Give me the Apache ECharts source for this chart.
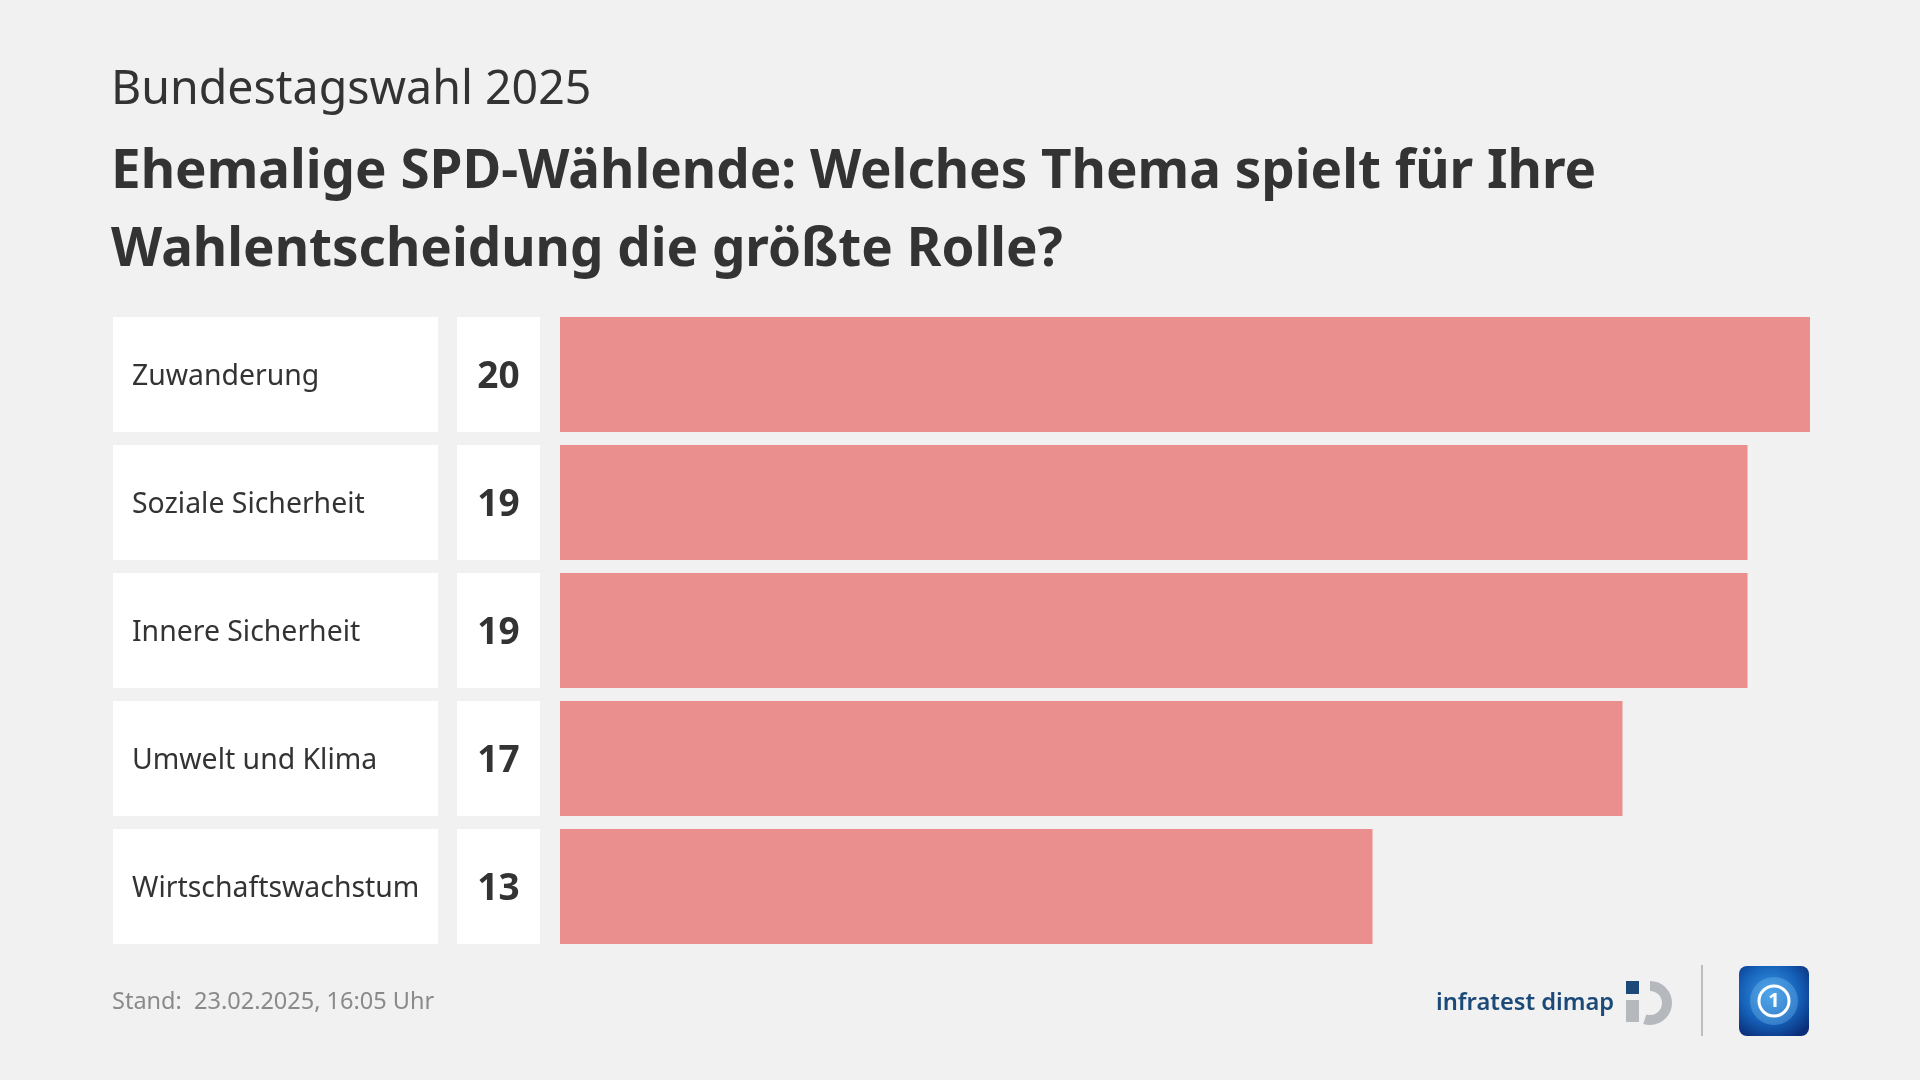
<!DOCTYPE html>
<html><head><meta charset="utf-8">
<script src="https://cdn.jsdelivr.net/npm/echarts@6/dist/echarts.min.js"></script>
<style>html,body{margin:0;padding:0;background:#f1f1f1;}#c{width:1920px;height:1080px;}</style>
</head><body><div id="c"></div>
<script>
const categories = ['Zuwanderung', 'Soziale Sicherheit', 'Innere Sicherheit', 'Umwelt und Klima', 'Wirtschaftswachstum'];
const values = [20, 19, 19, 17, 13];
const axisMax = 20;
const subtitleText = 'Bundestagswahl 2025';
const titleText = 'Ehemalige SPD-Wählende: Welches Thema spielt für Ihre\nWahlentscheidung die größte Rolle?';
const footerText = 'Stand:  23.02.2025, 16:05 Uhr';

const FONT = '"Noto Sans", "Open Sans", sans-serif';
const chart = echarts.init(document.getElementById('c'));
const gridTop = 310.5, gridBottom = 129.5, barW = 115;
const ones = categories.map(() => 1);
const hiddenX = (i, max) => ({gridIndex: i, type: 'value', min: 0, max: max, show: false});
const hiddenY = (i) => ({gridIndex: i, type: 'category', data: categories, inverse: true, show: false});

chart.setOption({
  backgroundColor: '#f1f1f1',
  animation: false,
  title: [
    {text: subtitleText, left: 106, top: 62, textStyle: {fontFamily: FONT, fontSize: 46.5, fontWeight: 'normal', color: '#333'}},
    {text: titleText, left: 106, top: 129, textStyle: {fontFamily: FONT, fontSize: 52.95, fontWeight: 'bold', color: '#333', lineHeight: 78}}
  ],
  grid: [
    {left: 113, width: 325, top: gridTop, bottom: gridBottom},
    {left: 457, width: 83, top: gridTop, bottom: gridBottom},
    {left: 560, right: 110, top: gridTop, bottom: gridBottom}
  ],
  xAxis: [hiddenX(0, 1), hiddenX(1, 1), hiddenX(2, axisMax)],
  yAxis: [hiddenY(0), hiddenY(1), hiddenY(2)],
  series: [
    {type: 'bar', xAxisIndex: 0, yAxisIndex: 0, data: ones, barWidth: barW, silent: true,
     itemStyle: {color: '#ffffff'},
     label: {show: true, position: 'insideLeft', distance: 19, offset: [0, 2], formatter: p => categories[p.dataIndex],
             fontFamily: FONT, fontSize: 28.4, color: '#333'}},
    {type: 'bar', xAxisIndex: 1, yAxisIndex: 1, data: ones, barWidth: barW, silent: true,
     itemStyle: {color: '#ffffff'},
     label: {show: true, position: 'inside', offset: [0, 3], formatter: p => String(values[p.dataIndex]),
             fontFamily: FONT, fontSize: 37, fontWeight: 'bold', color: '#333'}},
    {type: 'bar', xAxisIndex: 2, yAxisIndex: 2, data: values, barWidth: barW, silent: true,
     itemStyle: {color: '#ea8e8e'}}
  ],
  graphic: [
    {type: 'text', left: 112, top: 990, style: {text: footerText, font: '23.5px ' + FONT, fill: '#8a8a8a'}},
    {type: 'text', left: 1436, top: 991, style: {text: 'infratest dimap', font: '600 23.7px ' + FONT, fill: '#1b4a78'}},
    {type: 'rect', shape: {x: 1626, y: 981, width: 13, height: 13}, style: {fill: '#1b4a78'}},
    {type: 'rect', shape: {x: 1626, y: 1000, width: 13, height: 22}, style: {fill: '#b5b9bd'}},
    {type: 'arc', shape: {cx: 1650, cy: 1003, r: 17, startAngle: -Math.PI / 2, endAngle: Math.PI * 0.6}, style: {stroke: '#b5b9bd', lineWidth: 10, fill: null}},
    {type: 'line', shape: {x1: 1702, y1: 965, x2: 1702, y2: 1036}, style: {stroke: '#bdbdbd', lineWidth: 2}},
    {type: 'rect', shape: {x: 1739, y: 966, width: 70, height: 70, r: 8},
     style: {fill: {type: 'radial', x: 0.45, y: 0.4, r: 0.7, colorStops: [{offset: 0, color: '#3a9be8'}, {offset: 0.6, color: '#1560b8'}, {offset: 1, color: '#0a2f7a'}]}}},
    {type: 'circle', shape: {cx: 1774, cy: 1001, r: 24}, style: {fill: 'rgba(120,190,240,0.35)', stroke: null}},
    {type: 'circle', shape: {cx: 1774, cy: 1001, r: 15}, style: {fill: null, stroke: '#ffffff', lineWidth: 3}},
    {type: 'text', x: 1774, y: 1001, style: {text: '1', font: 'bold 20px ' + FONT, fill: '#ffffff', align: 'center', verticalAlign: 'middle'}}
  ]
});
</script></body></html>
